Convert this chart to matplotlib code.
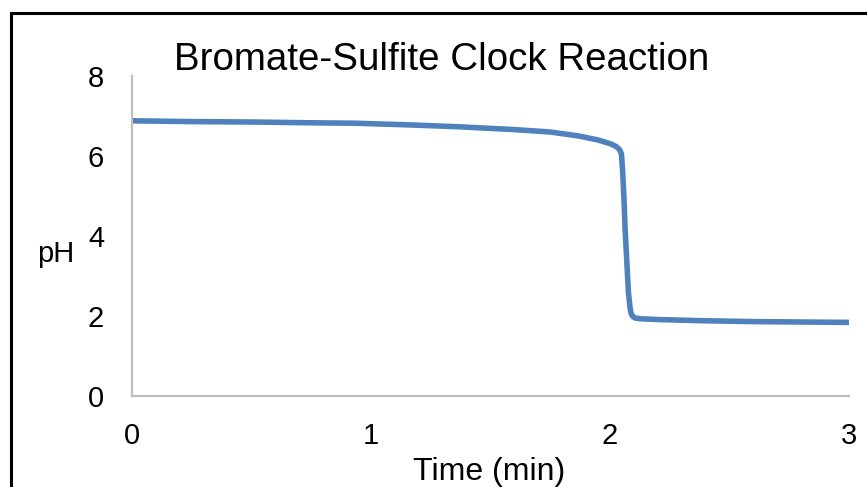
import matplotlib.pyplot as plt
from matplotlib.patches import Rectangle

plt.rcParams['font.family'] = ['Liberation Sans', 'DejaVu Sans']

# pH readings over time
time_min = [0.00, 0.25, 0.50, 0.75, 0.93, 1.15, 1.37, 1.60, 1.75, 1.87, 1.95, 2.00,
            2.025, 2.04, 2.048, 2.053, 2.058, 2.063, 2.07, 2.077, 2.084, 2.089,
            2.095, 2.105, 2.13, 2.21, 2.40, 2.60, 2.80, 3.00]
ph = [6.88, 6.86, 6.85, 6.83, 6.82, 6.78, 6.73, 6.66, 6.60, 6.50, 6.40, 6.31,
      6.24, 6.16, 6.05, 5.60, 5.00, 4.20, 3.40, 2.60, 2.20, 2.05,
      1.99, 1.95, 1.93, 1.91, 1.88, 1.86, 1.85, 1.84]

x_ticks = [0, 1, 2, 3]
y_ticks = [0, 2, 4, 6, 8]

W, H = 867, 487
fig = plt.figure(figsize=(W / 100, H / 100), dpi=100)
ax = fig.add_axes([132 / W, 1 - 396 / H, (849 - 132) / W, (396 - 76) / H])

ax.plot(time_min, ph, color='#4F81BD', lw=4, solid_capstyle='butt',
        solid_joinstyle='round')
ax.set_xlim(0, 3)
ax.set_ylim(0, 8)
ax.set_xticks(x_ticks)
ax.set_yticks(y_ticks)
ax.tick_params(length=0, labelsize=21)
ax.tick_params(axis='y', pad=20)
ax.tick_params(axis='x', pad=19)
for s in ['top', 'right']:
    ax.spines[s].set_visible(False)
for s in ['left', 'bottom']:
    ax.spines[s].set_color('#BFBFBF')
    ax.spines[s].set_linewidth(1.6)

fig.text(442 / W, 1 - 70 / H, 'Bromate-Sulfite Clock Reaction', fontsize=27.7,
         ha='center', va='baseline')
fig.text(56 / W, 1 - 262 / H, 'pH', fontsize=21, ha='center', va='baseline')
fig.text(489 / W, 1 - 480 / H, 'Time (min)', fontsize=23, ha='center', va='baseline')

# outer chart border (cropped at right and bottom)
fig.patches.append(Rectangle((11 / W, -0.05), 1.2, 1 - 13 / H + 0.05,
                             transform=fig.transFigure, fill=False,
                             edgecolor='black', lw=2.2))

fig.savefig('out.png', dpi=100)
